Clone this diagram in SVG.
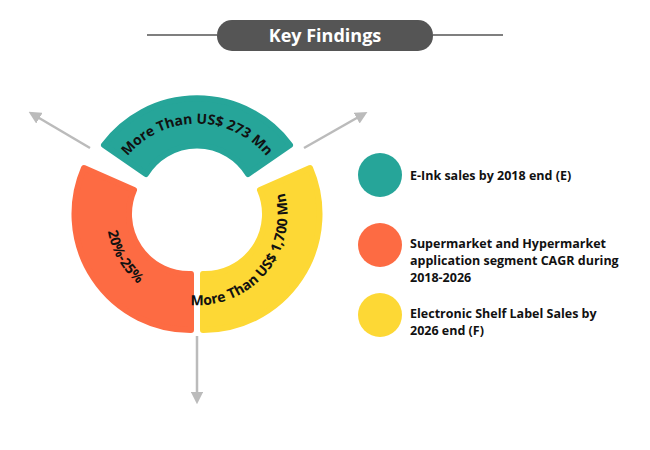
<svg xmlns="http://www.w3.org/2000/svg" xmlns:xlink="http://www.w3.org/1999/xlink" width="650" height="450" viewBox="0 0 650 450">
<style>
.seg{stroke-width:6;stroke-linejoin:round}
.lbl{font-family:"Open Sans","DejaVu Sans",sans-serif;font-weight:bold;font-size:14px;fill:#111}
.leg{font-family:"Open Sans","DejaVu Sans",sans-serif;font-weight:bold;font-size:12.5px;fill:#111}
.arr{stroke:#bbb;stroke-width:2.5;fill:none;marker-end:url(#ah)}
</style>
<defs>
<marker id="ah" viewBox="0 0 10 10" refX="5" refY="5" markerWidth="5" markerHeight="5" orient="auto" markerUnits="strokeWidth"><path d="M0,0L10,5L0,10z" fill="#bbb"/></marker>
<path id="tp1" d="M112,184 A90,90 0 0 1 282,184"/>
<path id="tp2" d="M152,293 A90,90 0 0 0 266,157"/>
<path id="tp3" d="M112,184 A90,90 0 0 0 181,304"/>
</defs>
<rect width="650" height="450" fill="#fff"/>
<g id="title">
<line x1="147" y1="35" x2="217" y2="35" stroke="#555" stroke-width="1.5"/>
<line x1="433" y1="35" x2="503" y2="35" stroke="#555" stroke-width="1.5"/>
<rect x="217" y="20" width="216" height="31" rx="15" fill="#555"/>
<text x="325" y="42" text-anchor="middle" font-family="Open Sans,DejaVu Sans,sans-serif" font-weight="bold" font-size="18" fill="#fff">Key Findings</text>
</g>
<g id="connectors">
<line class="arr" x1="90" y1="148" x2="34" y2="115"/>
<line class="arr" x1="304" y1="148" x2="362" y2="115"/>
<line class="arr" x1="197" y1="336" x2="197" y2="398"/>
</g>
<g id="teal">
<path class="seg" fill="#26a599" stroke="#26a599" d="M104,145 A116,116 0 0 1 290,145 L248,174 A60,60 0 0 0 146,174 Z"/>
<text class="lbl"><textPath xlink:href="#tp1" startOffset="50%" text-anchor="middle">More Than US$ 273 Mn</textPath></text>
</g>
<g id="orange">
<path class="seg" fill="#fd6b43" stroke="#fd6b43" d="M191,330 A116,116 0 0 1 84,168 L134,190 A60,60 0 0 0 191,274 Z"/>
<text class="lbl"><textPath xlink:href="#tp3" startOffset="50%" text-anchor="middle">20%-25%</textPath></text>
</g>
<g id="yellow">
<path class="seg" fill="#fdd835" stroke="#fdd835" d="M203,330 A116,116 0 0 0 310,168 L260,190 A60,60 0 0 1 203,274 Z"/>
<text class="lbl"><textPath xlink:href="#tp2" startOffset="50%" text-anchor="middle">More Than US$ 1,700 Mn</textPath></text>
</g>
<g id="legend-e">
<circle cx="380" cy="175" r="22" fill="#26a599"/>
<text class="leg" x="410" y="180">E-Ink sales by 2018 end (E)</text>
</g>
<g id="legend-s">
<circle cx="380" cy="245" r="22" fill="#fd6b43"/>
<text class="leg" x="410" y="248">Supermarket and Hypermarket</text>
<text class="leg" x="410" y="265">application segment CAGR during</text>
<text class="leg" x="410" y="282">2018-2026</text>
</g>
<g id="legend-f">
<circle cx="380" cy="315" r="22" fill="#fdd835"/>
<text class="leg" x="410" y="318">Electronic Shelf Label Sales by</text>
<text class="leg" x="410" y="335">2026 end (F)</text>
</g>
</svg>
